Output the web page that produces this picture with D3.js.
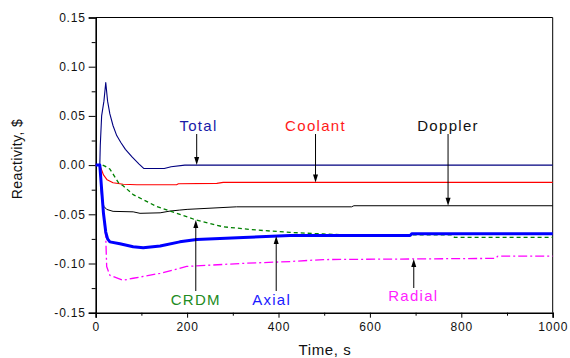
<!DOCTYPE html>
<html>
<head>
<meta charset="utf-8">
<script src="https://cdn.jsdelivr.net/npm/d3@7"></script>
<style>
  html, body { margin: 0; padding: 0; background: #ffffff; }
  svg { display: block; font-family: "Liberation Sans", Arial, sans-serif; }
</style>
</head>
<body>
<svg id="chart" width="570" height="358"></svg>
<script>
// ---- Data ----
const totalT   = [0, 9, 10, 13, 18, 22, 26, 31, 38, 46, 55, 65, 80, 95, 105, 150, 165, 195, 1000];
const totalY   = [0, 0, 0.02, 0.05, 0.065, 0.084, 0.065, 0.052, 0.040, 0.030, 0.023, 0.016, 0.008, 0.001, -0.0034, -0.0034, -0.0017, 0, 0];

const coolantT = [0, 9, 13, 17, 25, 38, 60, 90, 177, 181, 265, 279, 1000];
const coolantY = [0, 0, -0.005, -0.010, -0.015, -0.018, -0.0195, -0.020, -0.020, -0.019, -0.0186, -0.0176, -0.0176];

const dopplerT = [0, 9, 13, 18, 24, 38, 82, 97, 141, 163, 184, 200, 308, 560, 565, 1000];
const dopplerY = [0, 0, -0.034, -0.042, -0.045, -0.047, -0.0475, -0.049, -0.0485, -0.0467, -0.0457, -0.045, -0.0424, -0.0424, -0.0413, -0.0413];

const crdmT    = [0, 15, 20, 31, 50, 60, 82, 133, 177, 221, 279, 352, 425, 498, 560, 780, 785, 1000];
const crdmY    = [0, 0, -0.001, -0.004, -0.018, -0.021, -0.030, -0.042, -0.049, -0.056, -0.0627, -0.066, -0.0684, -0.070, -0.071, -0.071, -0.0735, -0.0735];

const axialT   = [0, 9, 13, 17, 22, 26, 31, 53, 82, 104, 141, 184, 221, 323, 425, 688, 692, 1000];
const axialY   = [0, 0, -0.025, -0.049, -0.068, -0.075, -0.078, -0.080, -0.083, -0.084, -0.0823, -0.078, -0.0755, -0.0735, -0.0715, -0.0715, -0.0697, -0.0697];

const radialT  = [0, 9, 13, 17, 22, 24, 31, 60, 82, 141, 199, 316, 425, 498, 875, 880, 1000];
const radialY  = [0, 0, -0.025, -0.050, -0.073, -0.103, -0.112, -0.117, -0.115, -0.110, -0.103, -0.100, -0.098, -0.096, -0.0948, -0.0925, -0.0925];

const xTicks = [0, 200, 400, 600, 800, 1000];
const xMinor = [100, 300, 500, 700, 900];
const yTicks = [-0.15, -0.10, -0.05, 0.00, 0.05, 0.10, 0.15];
const yMinor = [-0.125, -0.075, -0.025, 0.025, 0.075, 0.125];

// label name, colour, label anchor (time), arrow time, direction
const labelNames  = ["Total", "Coolant", "Doppler", "CRDM", "Axial", "Radial"];
const labelColors = ["#1a1aa8", "#ff1a1a", "#111111", "#228b22", "#1a1aff", "#ff22ff"];
const arrowTimes  = [221, 481, 771, 219, 395, 696];
const labelTimes  = [225, 481, 771, 219, 385, 695];

// ---- Layout ----
const svg = d3.select("#chart");
const x = d3.scaleLinear().domain([0, 1000]).range([95.7, 552.7]);
const y = d3.scaleLinear().domain([-0.15, 0.15]).range([312.7, 17.5]);

const fmtY = v => d3.format(".2f")(v).replace("−", "-");

// frame (top & right)
svg.append("line").attr("x1", x(0)).attr("x2", x(1000)).attr("y1", y(0.15)).attr("y2", y(0.15))
  .attr("stroke", "#000").attr("stroke-width", 1);
svg.append("line").attr("x1", x(1000)).attr("x2", x(1000)).attr("y1", y(0.15)).attr("y2", y(-0.15))
  .attr("stroke", "#000").attr("stroke-width", 1);

// axes
const xAxis = svg.append("g").attr("transform", `translate(0,${y(-0.15)})`)
  .call(d3.axisBottom(x).tickValues(xTicks).tickSize(5).tickPadding(5).tickFormat(d3.format("d")));
svg.append("g").attr("transform", `translate(0,${y(-0.15)})`)
  .call(d3.axisBottom(x).tickValues(xMinor).tickSize(3).tickFormat(""))
  .select(".domain").remove();
const yAxis = svg.append("g").attr("transform", `translate(${x(0)},0)`)
  .call(d3.axisLeft(y).tickValues(yTicks).tickSize(7).tickPadding(3).tickFormat(fmtY));
svg.append("g").attr("transform", `translate(${x(0)},0)`)
  .call(d3.axisLeft(y).tickValues(yMinor).tickSize(4).tickFormat(""))
  .select(".domain").remove();

svg.selectAll(".domain").attr("stroke-width", 1.6);
svg.selectAll(".tick line").attr("stroke-width", 1);
svg.selectAll(".tick text").attr("font-size", 12).attr("fill", "#111")
  .attr("letter-spacing", 0.8)
  .attr("font-family", "'Liberation Sans', Arial, sans-serif");

// axis titles
svg.append("text").attr("x", 325).attr("y", 355).attr("text-anchor", "middle")
  .attr("font-size", 15).attr("letter-spacing", 0.6).attr("fill", "#111").text("Time, s");
svg.append("text").attr("transform", "translate(22,159) rotate(-90)").attr("text-anchor", "middle")
  .attr("font-size", 14).attr("letter-spacing", 0.4).attr("fill", "#111").text("Reactivity, $");

// series
const series = [
  {t: totalT,   v: totalY,   color: "#000080", w: 1.1, dash: null},
  {t: coolantT, v: coolantY, color: "#ff0000", w: 1.1, dash: null},
  {t: dopplerT, v: dopplerY, color: "#000000", w: 1.0, dash: null},
  {t: crdmT,    v: crdmY,    color: "#008000", w: 1.3, dash: "4,3"},
  {t: radialT,  v: radialY,  color: "#ff00ff", w: 1.3, dash: "9,3,2,3"},
  {t: axialT,   v: axialY,   color: "#0000ff", w: 3.0, dash: null}
];
const line = d3.line().x(d => x(d[0])).y(d => y(d[1]));
const plot = svg.append("g");
series.forEach(s => {
  plot.append("path")
    .attr("d", line(s.t.map((t, i) => [t, s.v[i]])))
    .attr("fill", "none").attr("stroke", s.color).attr("stroke-width", s.w)
    .attr("stroke-linejoin", "round")
    .attr("stroke-dasharray", s.dash);
});

// annotations: labels + arrows
function interp(ts, vs, t) {
  for (let i = 1; i < ts.length; i++) {
    if (t <= ts[i]) { const f = (t - ts[i-1]) / (ts[i] - ts[i-1]); return vs[i-1] + f * (vs[i] - vs[i-1]); }
  }
  return vs[vs.length - 1];
}
const targets = [
  [totalT, totalY], [coolantT, coolantY], [dopplerT, dopplerY],
  [crdmT, crdmY], [axialT, axialY], [radialT, radialY]
];
const ann = svg.append("g");
labelNames.forEach((name, i) => {
  const top = i < 3;
  const lx = x(labelTimes[i]);
  const ly = top ? 131 : (i === 5 ? 301 : 305);
  ann.append("text").attr("x", lx).attr("y", ly).attr("text-anchor", "middle")
    .attr("font-size", 15).attr("letter-spacing", 1.3).attr("fill", labelColors[i]).text(name);
  const ax = x(arrowTimes[i]);
  const ty = y(interp(targets[i][0], targets[i][1], arrowTimes[i]));
  const sy = top ? 134 : (i === 5 ? 288 : 291);
  const dir = top ? 1 : -1;
  ann.append("line").attr("x1", ax).attr("x2", ax).attr("y1", sy).attr("y2", ty - dir * 6)
    .attr("stroke", "#000").attr("stroke-width", 1);
  ann.append("path")
    .attr("d", `M${ax},${ty} L${ax - 2.5},${ty - dir * 8} L${ax + 2.5},${ty - dir * 8} Z`)
    .attr("fill", "#000");
});
</script>
</body>
</html>
